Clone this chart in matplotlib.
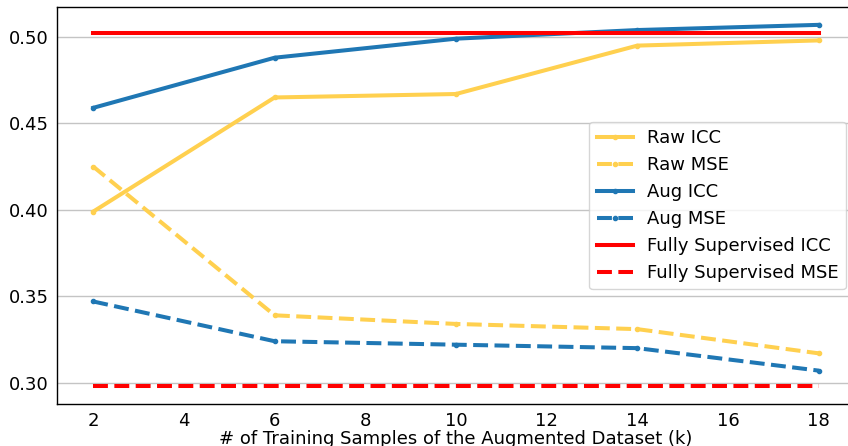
import matplotlib
matplotlib.use('Agg')
import matplotlib.pyplot as plt

# data
samples = [2, 6, 10, 14, 18]
raw_icc = [0.399, 0.465, 0.467, 0.495, 0.498]
raw_mse = [0.425, 0.339, 0.334, 0.331, 0.317]
aug_icc = [0.459, 0.488, 0.499, 0.504, 0.507]
aug_mse = [0.347, 0.324, 0.322, 0.320, 0.307]
full_icc = 0.502
full_mse = 0.298

yellow = '#ffd04f'
blue = '#1f77b4'
red = '#ff0000'

plt.rcParams['font.size'] = 13

fig = plt.figure(figsize=(8.48, 4.46), dpi=100)
ax = fig.add_axes([0.0672, 0.0942, 0.941, 0.890])

lw = 2.9
ax.plot(samples, raw_icc, '-', color=yellow, lw=lw, marker='o', ms=3, label='Raw ICC')
ax.plot(samples, raw_mse, '--', color=yellow, lw=lw, marker='o', ms=3, label='Raw MSE')
ax.plot(samples, aug_icc, '-', color=blue, lw=lw, marker='o', ms=3, label='Aug ICC')
ax.plot(samples, aug_mse, '--', color=blue, lw=lw, marker='o', ms=3, label='Aug MSE')
ax.plot([samples[0], samples[-1]], [full_icc, full_icc], '-', color=red, lw=lw,
        label='Fully Supervised ICC')
ax.plot([samples[0], samples[-1]], [full_mse, full_mse], '--', color=red, lw=lw,
        label='Fully Supervised MSE')

ax.set_xlim(1.2, 18.8)
ax.set_ylim(0.2877, 0.5173)
ax.set_xticks([2, 4, 6, 8, 10, 12, 14, 16, 18])
ax.set_yticks([0.30, 0.35, 0.40, 0.45, 0.50])
ax.yaxis.grid(True, color='#c4c4c4', lw=1)
ax.set_axisbelow(True)
ax.tick_params(axis='x', length=0, pad=6)
ax.tick_params(axis='y', length=0, pad=6)
for s in ax.spines.values():
    s.set_color('black')
    s.set_linewidth(1)

ax.set_xlabel('# of Training Samples of the Augmented Dataset (k)', labelpad=0)
ax.legend(loc='center right', fancybox=True, framealpha=0.8, edgecolor='#cccccc')

fig.savefig('out.png', dpi=100)
